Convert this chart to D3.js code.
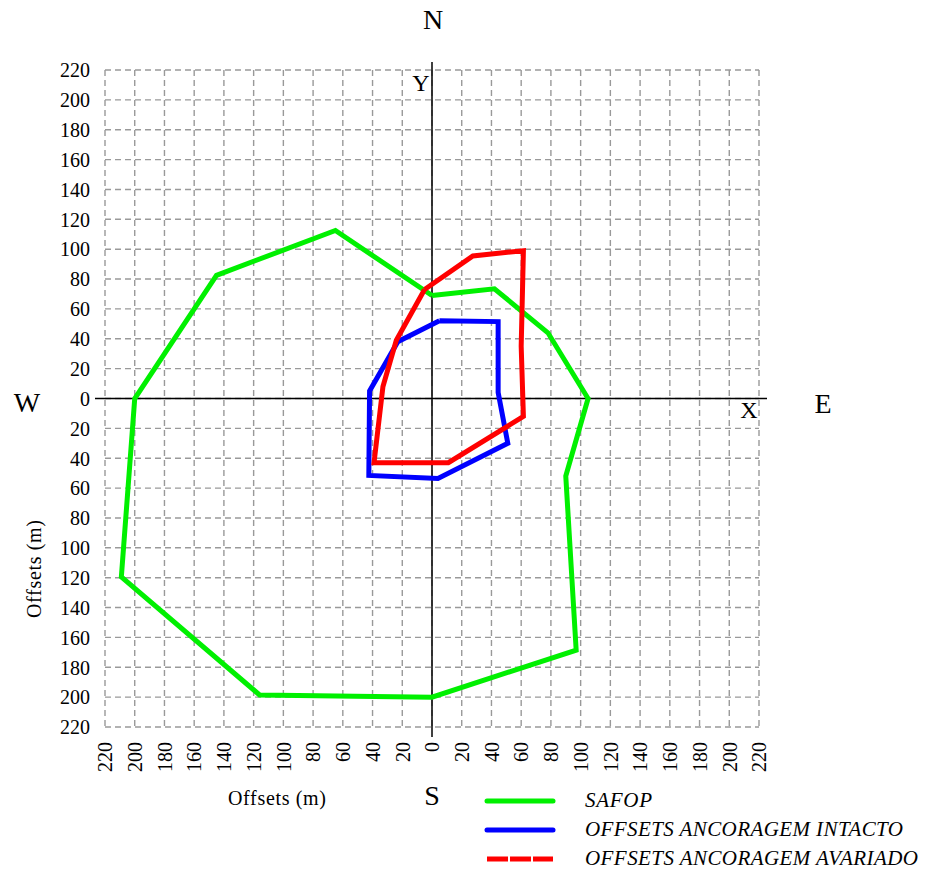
<!DOCTYPE html>
<html><head><meta charset="utf-8">
<script src="https://cdn.jsdelivr.net/npm/d3@7"></script>
<style>body{margin:0;background:#fff}svg{display:block}</style>
</head><body>
<svg id="c" width="930" height="871"></svg>
<script>
// ---- data ----
const tickValues = d3.range(-220, 221, 20);
const safopX = [0, 42, 78, 105, 90, 97, 0, -116, -209, -200, -145, -65, 0];
const safopY = [69, 73.5, 44, 0, -52, -168.5, -200, -198.5, -119.5, 0, 82.5, 112.5, 69];
const intactX = [5, 44.5, 44.5, 51, 4, -42.5, -42, -23, 5];
const intactY = [52, 51.5, 4, -30, -53.5, -51.5, 5, 38, 52];
const damagedX = [-5, 27.5, 61.5, 60, 61.5, 11, -39, -33, -24, -5];
const damagedY = [73, 95.5, 99, 35, -12, -43, -43, 8, 39, 73];
const seriesNames = ["SAFOP", "OFFSETS ANCORAGEM INTACTO", "OFFSETS ANCORAGEM AVARIADO"];
const seriesColors = ["#00f000", "#0000ff", "#ff0000"];
const axisLabel = "Offsets (m)";

const svg = d3.select("#c");
const x = d3.scaleLinear().domain([-220, 220]).range([105, 759]);
const y = d3.scaleLinear().domain([-220, 220]).range([727, 70]);
const serif = "Liberation Serif, DejaVu Serif, serif";

// grid
const grid = svg.append("g").attr("stroke", "#999").attr("stroke-width", 1.4)
  .attr("stroke-dasharray", "6,4").attr("fill", "none");
tickValues.forEach(v => {
  grid.append("line").attr("x1", x(v)).attr("x2", x(v)).attr("y1", y(220)).attr("y2", y(-220));
  grid.append("line").attr("y1", y(v)).attr("y2", y(v)).attr("x1", x(-220)).attr("x2", x(220));
});

// axes lines through origin
svg.append("line").attr("x1", 95).attr("x2", 767).attr("y1", y(0)).attr("y2", y(0))
  .attr("stroke", "#000").attr("stroke-width", 1.5);
svg.append("line").attr("x1", x(0)).attr("x2", x(0)).attr("y1", 62).attr("y2", 737)
  .attr("stroke", "#000").attr("stroke-width", 1.5);

// y tick labels
const yAxis = d3.axisLeft(y).tickValues(tickValues).tickSize(0).tickPadding(0)
  .tickFormat(d => Math.abs(d));
const gy = svg.append("g").attr("transform", "translate(90,0)").call(yAxis)
  .attr("font-family", serif).attr("font-size", 20);
gy.select(".domain").remove();
gy.selectAll("text").style("font-family", serif).style("font-size", "20px").attr("fill", "#000").attr("dy", "0.34em");

// x tick labels (rotated)
const xAxis = d3.axisBottom(x).tickValues(tickValues).tickSize(0).tickPadding(0)
  .tickFormat(d => Math.abs(d));
const gx = svg.append("g").attr("transform", "translate(0,742)").call(xAxis)
  .attr("font-family", serif).attr("font-size", 20);
gx.select(".domain").remove();
gx.selectAll("text").style("font-family", serif).style("font-size", "20px").attr("fill", "#000")
  .attr("transform", "rotate(-90)").attr("text-anchor", "end").attr("x", 0).attr("y", 0).attr("dy", "0.34em");

// series
const line = d3.line().x(d => x(d[0])).y(d => y(d[1])).curve(d3.curveLinear);
const series = [
  d3.zip(safopX, safopY),
  d3.zip(intactX, intactY),
  d3.zip(damagedX, damagedY)
];
series.forEach((pts, i) => {
  svg.append("path").attr("d", line(pts)).attr("fill", "none")
    .attr("stroke", seriesColors[i]).attr("stroke-width", 5)
    .attr("stroke-linejoin", "miter").attr("stroke-linecap", "butt");
});

// compass and axis letters
const txt = (s, tx, ty, size, extra) => {
  const t = svg.append("text").attr("x", tx).attr("y", ty).text(s)
    .style("font-family", serif).style("font-size", size + "px").attr("text-anchor", "middle").attr("fill", "#000");
  if (extra) extra(t);
  return t;
};
txt("N", 433, 29, 28);
txt("S", 432, 805, 28);
txt("W", 27, 412, 28);
txt("E", 823, 413, 28);
txt("Y", 421, 91, 24);
txt("X", 749, 418, 24);

txt(axisLabel, 277, 805, 20, t => t.attr("textLength", 98));
svg.append("text").attr("transform", "translate(41,569) rotate(-90)").text(axisLabel)
  .style("font-family", serif).style("font-size", "20px")
  .attr("text-anchor", "middle").attr("textLength", 98);

// legend
const legY = [801, 830, 859];
const legLen = [67, 318, 333];
seriesNames.forEach((n, i) => {
  svg.append("line").attr("x1", 487).attr("x2", 553).attr("y1", legY[i]).attr("y2", legY[i])
    .attr("stroke", seriesColors[i]).attr("stroke-width", 5).attr("stroke-linecap", i === 2 ? "butt" : "round")
    .attr("stroke-dasharray", i === 2 ? "21,2" : null);
  svg.append("text").attr("x", 585).attr("y", legY[i] + 6).text(n)
    .style("font-family", serif).style("font-size", "21px").style("font-style", "italic").attr("fill", "#000")
    .attr("textLength", legLen[i]);
});
</script>
</body></html>
